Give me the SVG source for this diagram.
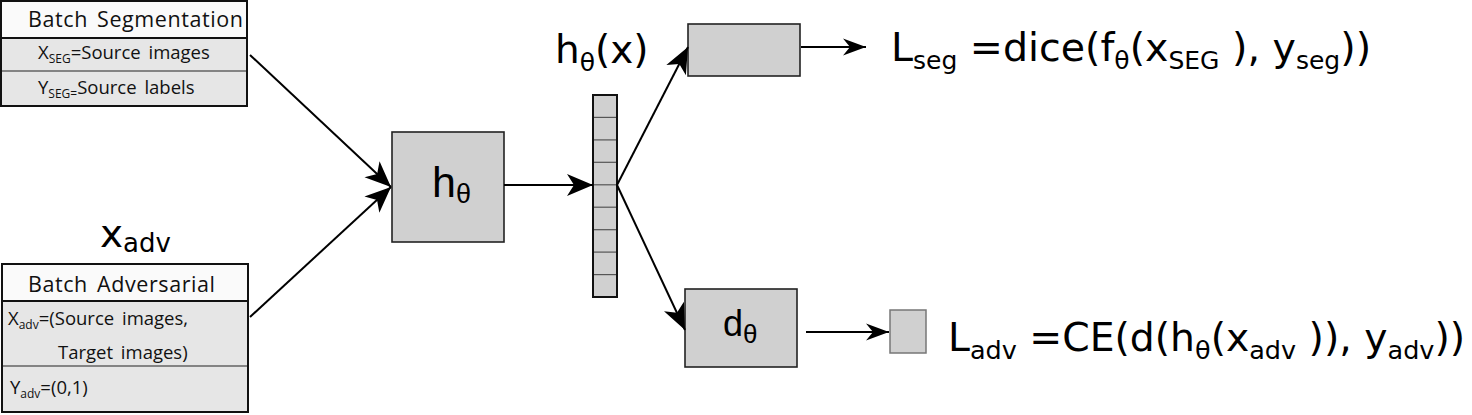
<svg xmlns="http://www.w3.org/2000/svg" width="1472" height="415" viewBox="0 0 1472 415">
<style>
.f{font-family:"DejaVu Sans",sans-serif;fill:#000}
.a{font-family:"Liberation Sans",Arial,sans-serif;fill:#000}
.b{font-family:"Open Sans","DejaVu Sans",sans-serif;fill:#111;word-spacing:3px}
.node{fill:#d0d0d0;stroke:#222;stroke-width:1.6}
.cell{fill:none;stroke:#555;stroke-width:1.2}
.hdr{fill:#fafafa}
.row{fill:#e6e6e6}
.frame{fill:none;stroke:#111;stroke-width:2}
.div{stroke:#111;stroke-width:2}
.div2{stroke:#222;stroke-width:1.2}
.conn line{stroke:#000;stroke-width:2;marker-end:url(#ah)}
.conn line.s{marker-end:url(#ahs)}
</style>
<defs>
<marker id="ah" markerUnits="userSpaceOnUse" markerWidth="30" markerHeight="26" viewBox="-28 -13 30 26" refX="0" refY="0" orient="auto">
<path d="M0,0 L-26,-11 L-19,0 L-26,11 Z" fill="#000"/>
</marker>
<marker id="ahs" markerUnits="userSpaceOnUse" markerWidth="26" markerHeight="20" viewBox="-24 -10 26 20" refX="0" refY="0" orient="auto">
<path d="M0,0 L-23,-8.5 L-16,0 L-23,8.5 Z" fill="#000"/>
</marker>
</defs>

<g id="batch-seg">
<rect x="1" y="1" width="246" height="37" class="hdr"/>
<rect x="1" y="38" width="246" height="68" class="row"/>
<line x1="1" y1="38" x2="247" y2="38" class="div"/>
<line x1="1" y1="71" x2="247" y2="71" class="div2"/>
<rect x="1" y="1" width="246" height="105" class="frame"/>
<text x="28" y="27" class="b" font-size="21.5" textLength="215" lengthAdjust="spacing">Batch Segmentation</text>
<text x="38" y="59" class="b" font-size="18.5">X<tspan font-size="12" dy="4">SEG</tspan><tspan dy="-4">=Source images</tspan></text>
<text x="38" y="94" class="b" font-size="18.5">Y<tspan font-size="12" dy="4">SEG=</tspan><tspan dy="-4">Source labels</tspan></text>
</g>

<g id="xadv-label">
<text x="100" y="247" class="f" font-size="39">x<tspan font-size="26" dy="5">adv</tspan></text>
</g>

<g id="batch-adv">
<rect x="2" y="264" width="246" height="37" class="hdr"/>
<rect x="2" y="301" width="246" height="112" class="row"/>
<line x1="2" y1="301" x2="248" y2="301" class="div"/>
<line x1="2" y1="366" x2="248" y2="366" class="div2"/>
<rect x="2" y="264" width="246" height="148" class="frame"/>
<text x="28" y="292" class="b" font-size="21.5" textLength="187" lengthAdjust="spacing">Batch Adversarial</text>
<text x="8" y="325" class="b" font-size="18.5">X<tspan font-size="12" dy="4">adv</tspan><tspan dy="-4">=(Source images,</tspan></text>
<text x="58" y="359" class="b" font-size="18.5">Target images)</text>
<text x="10" y="394" class="b" font-size="18.5">Y<tspan font-size="12" dy="4">adv</tspan><tspan dy="-4">=(0,1)</tspan></text>
</g>

<g id="h-theta">
<rect x="392" y="132" width="112" height="110" class="node"/>
<text x="432" y="197" class="a" font-size="43">h<tspan font-size="27" dy="6">θ</tspan></text>
</g>

<g id="features">
<rect x="593" y="95" width="24" height="202" fill="#d0d0d0"/>
<g class="cell">
<line x1="593" y1="117.4" x2="617" y2="117.4"/>
<line x1="593" y1="139.9" x2="617" y2="139.9"/>
<line x1="593" y1="162.3" x2="617" y2="162.3"/>
<line x1="593" y1="184.8" x2="617" y2="184.8"/>
<line x1="593" y1="207.2" x2="617" y2="207.2"/>
<line x1="593" y1="229.7" x2="617" y2="229.7"/>
<line x1="593" y1="252.1" x2="617" y2="252.1"/>
<line x1="593" y1="274.6" x2="617" y2="274.6"/>
</g>
<rect x="593" y="95" width="24" height="202" fill="none" stroke="#111" stroke-width="2"/>
<text x="555" y="63" class="f" font-size="39">h<tspan font-size="25" dy="8">θ</tspan><tspan dy="-8">(x)</tspan></text>
</g>

<g id="seg-head">
<rect x="688" y="24" width="112" height="52" class="node"/>
</g>

<g id="d-theta">
<rect x="685" y="289" width="112" height="78" class="node"/>
<text x="723" y="336" class="a" font-size="36">d<tspan font-size="26" dy="7">θ</tspan></text>
</g>

<g id="adv-out">
<rect x="890" y="310" width="36" height="43" fill="#d0d0d0" stroke="#777" stroke-width="1.5"/>
</g>

<g id="loss-seg">
<text x="891" y="61" class="f" font-size="39.5">L<tspan font-size="25" dy="8">seg</tspan><tspan dy="-8"> =dice(f</tspan><tspan font-size="25" dy="8">θ</tspan><tspan dy="-8">(x</tspan><tspan font-size="25" dy="8">SEG</tspan><tspan dy="-8"> ), y</tspan><tspan font-size="25" dy="8">seg</tspan><tspan dy="-8">))</tspan></text>
</g>

<g id="loss-adv">
<text x="948" y="351" class="f" font-size="39.3">L<tspan font-size="25.5" dy="8">adv</tspan><tspan dy="-8"> =CE(d(h</tspan><tspan font-size="25.5" dy="8">θ</tspan><tspan dy="-8">(x</tspan><tspan font-size="25.5" dy="8">adv</tspan><tspan dy="-8"> )), y</tspan><tspan font-size="25.5" dy="8">adv</tspan><tspan dy="-8">))</tspan></text>
</g>

<g id="connectors" class="conn">
<line x1="250" y1="55" x2="391" y2="187"/>
<line x1="250" y1="317" x2="391" y2="187"/>
<line x1="504" y1="185" x2="593" y2="185"/>
<line x1="617" y1="185" x2="688" y2="47"/>
<line x1="617" y1="185" x2="685" y2="330"/>
<line class="s" x1="801" y1="47" x2="866" y2="47"/>
<line class="s" x1="806" y1="332" x2="889" y2="332"/>
</g>
</svg>
